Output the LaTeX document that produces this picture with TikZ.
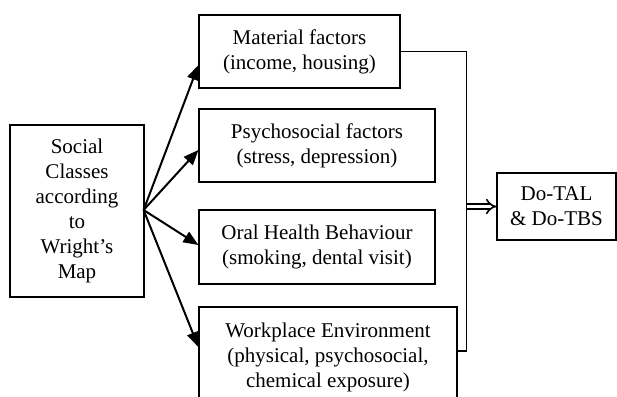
\documentclass[tikz,border=0pt]{standalone}
\usepackage{fontspec}
\setmainfont{Liberation Serif}
\usetikzlibrary{arrows.meta,calc}

\begin{document}
\begin{tikzpicture}[x=0.5pt, y=-0.5pt,
    box/.style={draw, line width=0.6pt, align=center, inner sep=0pt,
      font=\fontsize{10.5}{12.5}\selectfont},
    link/.style={line width=1pt, -{Triangle[length=7.5pt, width=6pt]}}]
    \clip (0,0) rectangle (617,397);

    % Nodes
    \node[box, minimum width=67pt, minimum height=86pt] (social) at (77,211)
      {Social\\Classes\\according\\to\\Wright’s\\Map};
    \node[box, minimum width=100.5pt, minimum height=36.5pt] (mat) at (299.5,51.5)
      {Material factors\\(income, housing)};
    \node[box, minimum width=118pt, minimum height=36.5pt] (psy) at (317,145.5)
      {Psychosocial factors\\(stress, depression)};
    \node[box, minimum width=118pt, minimum height=37pt] (oral) at (317,247)
      {Oral Health Behaviour\\(smoking, dental visit)};
    \node[box, minimum width=129pt, minimum height=50pt] (work) at (328,357)
      {Workplace Environment\\(physical, psychosocial,\\chemical exposure)};
    \node[box, minimum width=59.5pt, minimum height=33.5pt] (do) at (556.5,206.5)
      {Do-TAL\\\& Do-TBS};

    % Arrows from the social classes
    \coordinate (src) at ($(social.east)+(-1,-1)$);
    \draw[link] (src) -- ($(mat.west)+(0,13.5)$);
    \draw[link] (src) -- ($(psy.west)+(0,4.5)$);
    \draw[link] (src) -- ($(oral.west)+(0,-2)$);
    \draw[link] (src) -- ($(work.west)+(0,-10)$);

    % Collecting line and outcome
    \coordinate (bus) at ($(mat.east)+(66,0)$);
    \draw[line width=0.6pt] (mat.east) -- (bus) |- ($(work.east)+(0,-6)$);
    \draw[double, double distance=1.8pt, line width=0.8pt, -{Implies}]
      (do.west -| bus) -- (do.west);
\end{tikzpicture}
\end{document}
